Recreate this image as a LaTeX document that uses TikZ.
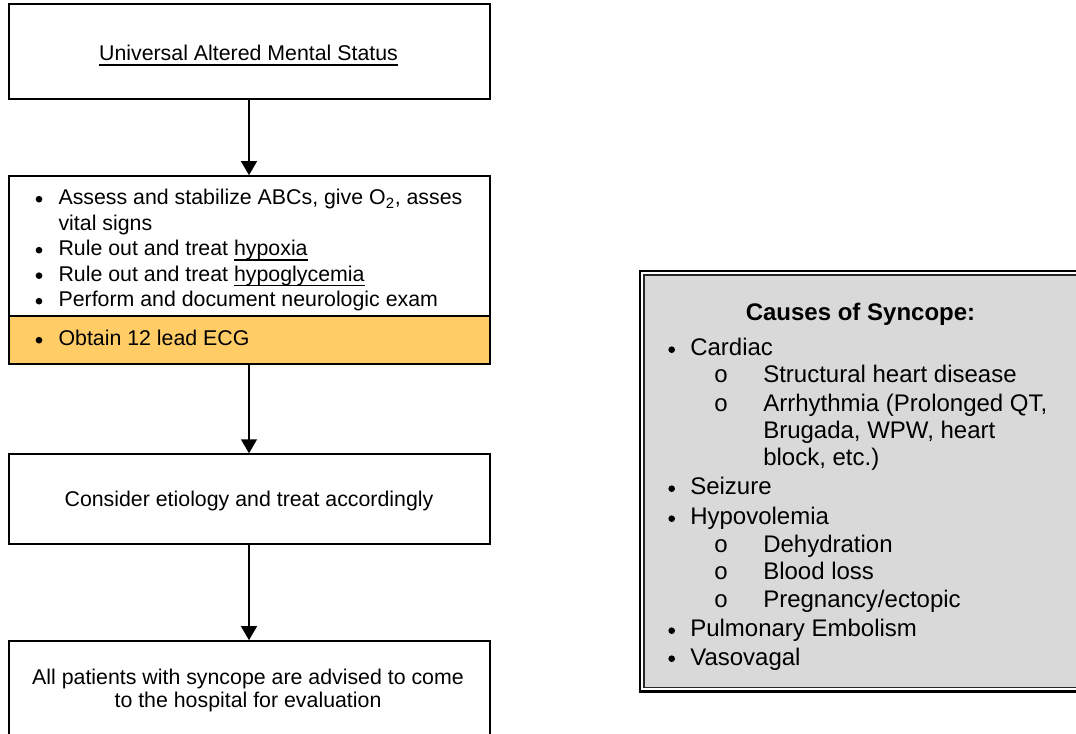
\documentclass[tikz,border=0pt]{standalone}
\usepackage{fontspec}
\setmainfont{Liberation Sans}
\newfontfamily\monofam{Liberation Mono}
\usetikzlibrary{arrows.meta}
\definecolor{ecgorange}{HTML}{FFCC66}
\definecolor{panelgray}{HTML}{D9D9D9}
\newcommand\ulin[1]{\setbox0\hbox{#1}\rlap{\vrule height -2.5pt depth 3.7pt width \wd0}\box0}
\begin{document}
\begin{tikzpicture}[x=0.75pt,y=-0.75pt,
  box/.style={draw=black,line width=1.5pt,rectangle,inner sep=0pt,minimum width=360.4pt},
  flow/.style={-{Triangle[width=11.8pt,length=10.5pt]},line width=1.6pt},
  lt/.style={font=\fontsize{16}{19}\selectfont,anchor=base west,inner sep=0pt},
  ct/.style={font=\fontsize{16}{19}\selectfont,anchor=base,inner sep=0pt},
  rt/.style={font=\fontsize{18}{21}\selectfont,anchor=base west,inner sep=0pt},
  ro/.style={font=\monofam\fontsize{18}{21}\selectfont,anchor=base,inner sep=0pt},
]
\useasboundingbox (0,0) rectangle (1076,734);
\clip (0,0) rectangle (1076,734);

% flow boxes
\node[box,minimum height=71.4pt] (start) at (249.25,51.9) {};
\node[box,minimum height=105pt] (assess) at (249.25,246.2) {};
\node[box,minimum height=36.2pt,fill=ecgorange] (ecg) at (249.25,340.35) {};
\node[box,minimum height=67.5pt] (etiology) at (249.25,499.3) {};
\node[box,minimum height=72.6pt] (advise) at (249.25,689.6) {};

% connectors
\draw[flow] (start.south -| 249,0) -- (assess.north -| 249,0);
\draw[flow] (ecg.south -| 249,0) -- (etiology.north -| 249,0);
\draw[flow] (etiology.south -| 249,0) -- (advise.north -| 249,0);

% texts of flow boxes
\node[ct] (starttext) at (248.5,61) {\ulin{Universal Altered Mental Status}};
\node[lt] (a1) at (58.3,205) {Assess and stabilize ABCs, give O\textsubscript{2}, asses};
\node[lt] (a2) at (58.3,230.5) {vital signs};
\node[lt] (a3) at (58.3,256) {Rule out and treat \ulin{hypoxia}};
\node[lt] (a4) at (58.3,281.5) {Rule out and treat \ulin{hypoglycemia}};
\node[lt] (a5) at (58.3,307) {Perform and document neurologic exam};
\node[lt] (a6) at (58.3,346) {Obtain 12 lead ECG};
\foreach \yy in {205,256,281.5,307,346} \fill (39,\yy-5.8) circle[radius=2.5pt];
\node[ct] (etiotext) at (249,506.7) {Consider etiology and treat accordingly};
\node[ct] (adv1) at (248,684) {All patients with syncope are advised to come};
\node[ct] (adv2) at (248,707) {to the hospital for evaluation};

% causes panel
\node[draw=black,line width=2pt,fill=white,minimum width=331.5pt,minimum height=315.4pt,inner sep=0pt] (causesouter) at (861,481.25) {};
\node[draw=black!85,line width=1.2pt,fill=panelgray,minimum width=325.5pt,minimum height=309.4pt,inner sep=0pt] (causes) at (861,481.25) {};
\node[font=\bfseries\fontsize{18}{21}\selectfont,anchor=base,inner sep=0pt] (causeshead) at (860.5,320.7) {Causes of Syncope:};
\node[rt] (c1) at (690,356) {Cardiac};
\node[rt] (c2) at (763,383) {Structural heart disease};
\node[rt] (c3) at (763,412) {Arrhythmia (Prolonged QT,};
\node[rt] (c4) at (763,438.5) {Brugada, WPW, heart};
\node[rt] (c5) at (763,466) {block, etc.)};
\node[rt] (c6) at (690,495) {Seizure};
\node[rt] (c7) at (690,525) {Hypovolemia};
\node[rt] (c8) at (763,553) {Dehydration};
\node[rt] (c9) at (763,580) {Blood loss};
\node[rt] (c10) at (763,607) {Pregnancy/ectopic};
\node[rt] (c11) at (690,637) {Pulmonary Embolism};
\node[rt] (c12) at (690,665) {Vasovagal};
\foreach \yy in {356,495,525,637,665} \fill (671.7,\yy-6.3) circle[radius=2.5pt];
\foreach \yy/\nm in {383/o1,412/o2,553/o3,580/o4,607/o5} \node[ro] (\nm) at (721,\yy) {o};
\end{tikzpicture}
\end{document}
